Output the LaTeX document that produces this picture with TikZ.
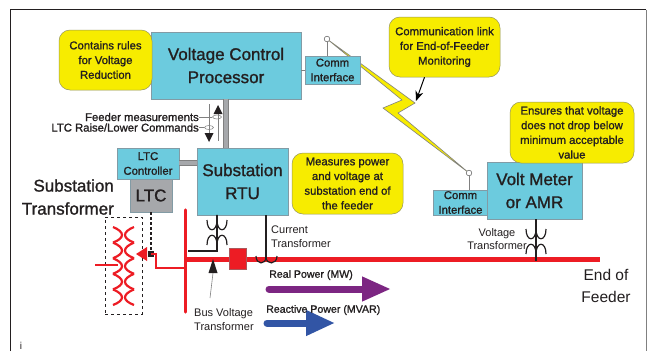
\documentclass[tikz,border=0pt]{standalone}
\usepackage{xcolor}
\usepackage{fontspec}
\usepackage{tikz}
\usetikzlibrary{arrows.meta,shapes.geometric}
\setmainfont{Liberation Sans}
\newfontfamily\heavyfont{Liberation Sans}[FakeBold=1.2]
\definecolor{boxblue}{RGB}{108,203,222}
\definecolor{boxedge}{RGB}{130,155,165}
\definecolor{noteyellow}{RGB}{247,236,0}
\definecolor{noteedge}{RGB}{150,150,90}
\definecolor{ltcgray}{RGB}{166,168,171}
\definecolor{busred}{RGB}{237,28,36}
\definecolor{realpurple}{RGB}{124,38,130}
\definecolor{reactiveblue}{RGB}{50,85,165}
\definecolor{inkblack}{RGB}{35,31,32}
\newcommand{\bigtext}{\heavyfont\fontsize{17}{23}\selectfont}
\newcommand{\smalltext}{\heavyfont\fontsize{11.3}{14.7}\selectfont}
\newcommand{\thintext}{\fontsize{11}{13.5}\selectfont}
\newcommand{\windings}[3]{%
    \draw[#3] (#1-10,#2) .. controls (#1-10,#2+13) and (#1,#2+13) .. (#1,#2)
        .. controls (#1,#2+13) and (#1+10,#2+13) .. (#1+10,#2);
    \draw[#3] (#1-10,#2+25) .. controls (#1-10,#2+12) and (#1,#2+12) .. (#1,#2+25)
        .. controls (#1,#2+12) and (#1+10,#2+12) .. (#1+10,#2+25);
}
\tikzset{
    bluebox/.style={draw=boxedge, fill=boxblue, line width=0.7pt, inner sep=0pt, align=center, text=inkblack},
    yellownote/.style={draw=noteedge, fill=noteyellow, line width=0.5pt, rounded corners=11pt, inner sep=0pt, align=center, text=inkblack, font=\smalltext},
    plainlabel/.style={inner sep=0pt, align=center, text=inkblack},
    antenna/.style={circle, draw=gray, fill=white, line width=0.6pt, inner sep=0pt, minimum size=5.5pt},
    thinline/.style={draw=gray, line width=0.6pt},
    barline/.style={draw=gray, double=ltcgray, line width=0.5pt, double distance=4.5pt},
    inkline/.style={draw=inkblack, line width=1.2pt},
    coilline/.style={draw=busred, line width=2.2pt},
    ring/.style={ellipse, draw=gray, line width=0.5pt, minimum width=9pt, minimum height=4pt, inner sep=0pt}
}
\begin{document}
\begin{tikzpicture}[x=1pt,y=-1pt]
    \useasboundingbox (0,0) rectangle (647,351);
    \fill[white] (0,0) rectangle (647,351);
    \draw[draw=inkblack, line width=0.7pt] (10.5,351) -- (10.5,9.5) -- (646,9.5);
    \draw[draw=gray, line width=1pt] (646,9.5) -- (646,351);

    % lightning link, under the boxes
    \node[antenna] (linktop) at (327,39) {};
    \node[antenna] (linkbottom) at (469,173) {};
    \draw[draw=gray, fill=noteyellow, line width=0.6pt]
        (linktop.center) -- (415,103) -- (398,113) -- (linkbottom.center)
        -- (383,108) -- (402,100) -- cycle;
    \node[antenna] at (linktop) {};
    \node[antenna] at (linkbottom) {};

    % main boxes
    \node[bluebox, minimum width=150pt, minimum height=67pt, font=\bigtext] (vcp) at (226,65.5) {Voltage Control\\Processor};
    \node[bluebox, minimum width=55pt, minimum height=28pt, font=\smalltext] (commtop) at (332.5,70) {Comm\\Interface};
    \node[bluebox, minimum width=91pt, minimum height=67pt, font=\bigtext] (rtu) at (242.5,181.5) {Substation\\RTU};
    \node[bluebox, minimum width=62pt, minimum height=31pt, font=\smalltext] (ltcctl) at (148,163.5) {LTC\\Controller};
    \node[bluebox, fill=ltcgray, minimum width=42pt, minimum height=33pt, font=\bigtext] (ltc) at (151,195.5) {LTC};
    \node[bluebox, minimum width=55pt, minimum height=25pt, font=\smalltext] (commend) at (460.5,202.5) {Comm\\Interface};
    \node[bluebox, minimum width=95pt, minimum height=57pt, font=\bigtext] (meter) at (534.5,190.5) {Volt Meter\\or AMR};

    % notes
    \node[yellownote, minimum width=93pt, minimum height=60pt] (rulesnote) at (105.5,60) {Contains rules\\for Voltage\\Reduction};
    \node[yellownote, minimum width=111pt, minimum height=61pt] (rtunote) at (347.5,183.5) {Measures power\\and voltage at\\substation end of\\the feeder};
    \node[yellownote, minimum width=111pt, minimum height=60pt] (linknote) at (444.5,47) {Communication link\\for End-of-Feeder\\Monitoring};
    \node[yellownote, minimum width=124pt, minimum height=61pt] (meternote) at (572,132.5) {Ensures that voltage\\does not drop below\\minimum acceptable\\value};

    % communication paths
    \draw[barline] (vcp.south) -- (vcp.south |- rtu.north);
    \draw[barline] (ltcctl.east |- 0,163) -- (rtu.west |- 0,163);
    \draw[thinline] (linktop) -- (linktop |- commtop.north);
    \draw[thinline] (linkbottom) -- (linkbottom |- commend.north);
    \draw[thinline] (vcp.east |- commtop.west) -- (commtop.west);
    \draw[-{Stealth[length=10pt,width=8pt]}, draw=black, line width=1pt] (linknote.south) ++(-20,0) -- (416,101);

    % signals on the bar
    \node[plainlabel, anchor=east, font=\smalltext] (feederlabel) at (199,117) {Feeder measurements};
    \node[plainlabel, anchor=east, font=\smalltext] (commandlabel) at (199,127.5) {LTC Raise/Lower Commands};
    \node[ring] (feederring) at (217,117) {};
    \node[ring] (commandring) at (209,127.5) {};
    \draw[thinline] (feederlabel.east) -- (feederring);
    \draw[thinline] (commandlabel.east) -- (commandring);
    \draw[thinline] (209,104) -- (209,134);
    \draw[thinline] (218,112) -- (218,141);
    \fill[inkblack] (218,105) -- (222.5,114) -- (213.5,114) -- cycle;
    \fill[inkblack] (209,142) -- (204.5,133) -- (213.5,133) -- cycle;

    % station transformer
    \node[draw=inkblack, dashed, line width=0.6pt, inner sep=0pt, minimum width=37pt, minimum height=97pt] (tankbox) at (123.5,265.5) {};
    \foreach \row in {227,242.6,258.2,273.8,289.4} {
        \draw[coilline] (113,\row) .. controls (125,\row+5) and (125,\row+11) .. (113,\row+15.6);
        \draw[coilline] (134,\row) .. controls (122,\row+5) and (122,\row+11) .. (134,\row+15.6);
    }
    \coordinate (primaryend) at (95,265);
    \draw[coilline] (primaryend) -- (118,265);

    % feeder and bus
    \coordinate (bustop) at (185.5,210);
    \coordinate (busbottom) at (185.5,312);
    \coordinate (feederstart) at (185.5,259.5);
    \coordinate (feederend) at (600,259.5);
    \draw[draw=busred, line width=3.4pt, line cap=round] (bustop) -- (busbottom);
    \draw[draw=busred, line width=4.5pt] (feederstart) -- (feederend);
    \node[draw=gray!60!busred, fill=busred, line width=0.4pt, inner sep=0pt, minimum width=17pt, minimum height=21pt] (breaker) at (237.5,258.5) {};
    \node[fill=inkblack, inner sep=0pt, minimum size=6pt] (tapchanger) at (151,254) {};
    \draw[draw=busred, line width=2.2pt] (tapchanger.center) -- (156,254) -- (156,268) -- (185.5,268);
    \fill[busred] (136,254) -- (147,247) -- (147,261) -- cycle;
    \draw[draw=inkblack, line width=1.6pt, dash pattern=on 3pt off 2pt] (ltc.south -| tapchanger) -- (tapchanger);

    % instrument transformers
    \windings{217}{220}{inkline}
    \draw[inkline] (rtu.south -| 217,0) -- (217,251) -- (188,251);
    \draw[inkline] (rtu.south -| 266,0) -- (266,259);
    \draw[inkline] (256,256) .. controls (256,265) and (266,265) .. (266,257)
        .. controls (266,265) and (277,265) .. (277,256);
    \windings{536}{229}{inkline}
    \draw[inkline] (meter.south -| 536,0) -- (536,261);
    \coordinate (busvttail) at (210,298);
    \coordinate (busvtbase) at (213,273);
    \draw[thinline] (busvttail) -- (busvtbase);
    \fill[inkblack] (213,259) -- (217.5,273) -- (208.5,273) -- cycle;

    % power flow arrows
    \coordinate (realstart) at (269,289);
    \coordinate (realend) at (391,289);
    \coordinate (reactivestart) at (267,323);
    \coordinate (reactiveend) at (335,323);
    \draw[draw=realpurple, line width=7pt, line cap=round, -{Triangle[length=29pt,width=23pt]}] (realstart) -- (realend);
    \draw[draw=reactiveblue, line width=7pt, line cap=round, -{Triangle[length=29pt,width=24pt]}] (reactivestart) -- (reactiveend);

    % free labels
    \node[plainlabel, anchor=east, align=right, font=\bigtext] (tanklabel) at (114,197) {Substation\\Transformer};
    \node[plainlabel, anchor=west, align=left, font=\thintext] (ctlabel) at (271,236.5) {Current\\Transformer};
    \node[plainlabel, anchor=west, align=left, font=\thintext] (busvtlabel) at (194,319.5) {Bus Voltage\\Transformer};
    \node[plainlabel, font=\thintext] (vtlabel) at (497,239) {Voltage\\Transformer};
    \node[plainlabel, anchor=west, font=\heavyfont\fontsize{10.6}{13}\selectfont] (reallabel) at (269,275) {Real Power (MW)};
    \node[plainlabel, anchor=west, font=\heavyfont\fontsize{10.6}{13}\selectfont] (reactivelabel) at (266,310) {Reactive Power (MVAR)};
    \node[plainlabel, font=\fontsize{15.5}{22}\selectfont] (endlabel) at (606,286) {End of\\Feeder};
    \node[plainlabel, font=\fontsize{10}{12}\selectfont] (cornerlabel) at (21,346) {i};
\end{tikzpicture}
\end{document}
